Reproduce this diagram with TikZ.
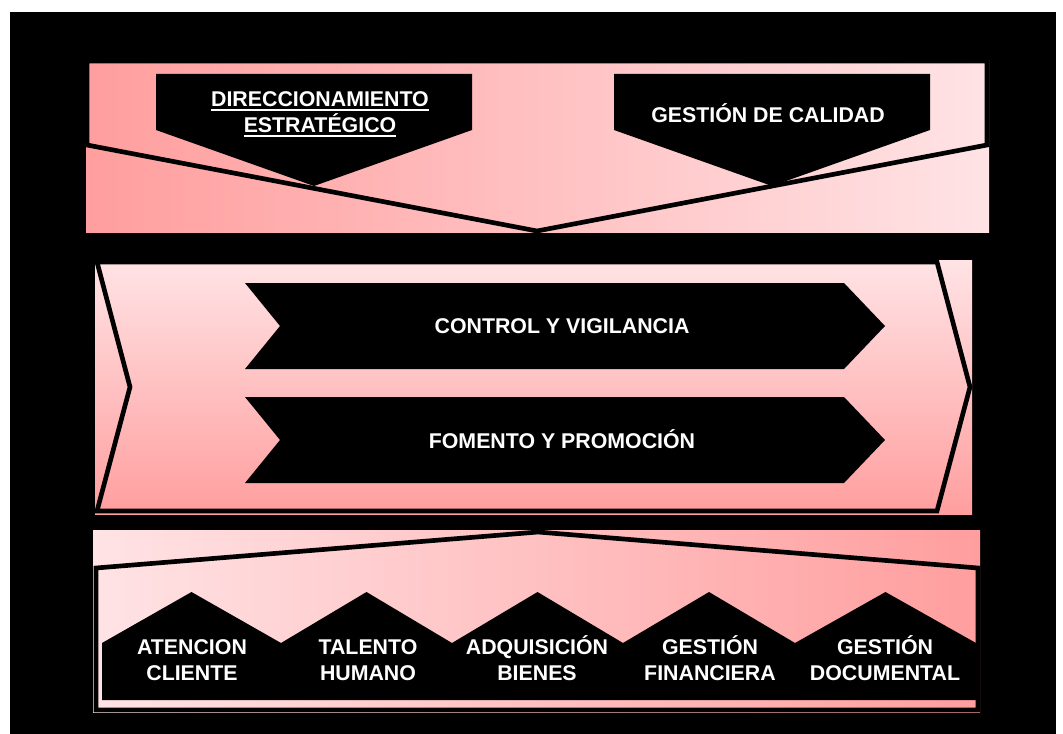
\documentclass[tikz,border=0pt]{standalone}
\usepackage{fontspec}
\setmainfont{Liberation Sans}
\usepackage{xcolor}
\usepackage{tikz}

\definecolor{pinkDark}{HTML}{FF9E9E}
\definecolor{pinkLight}{HTML}{FFE3E5}
\newcommand{\undl}[1]{\leavevmode\setbox0\hbox{#1}\rlap{\rule[-3pt]{\wd0}{1.4pt}}\box0}

\begin{document}
\begin{tikzpicture}[x=0.75pt,y=0.75pt,yscale=-1,xscale=1,
  lbl/.style={text=white,font=\fontsize{16}{19.5}\selectfont\bfseries,align=center,inner sep=0.75pt,anchor=base},
  outl/.style={line width=3.5pt,line join=miter}]
\useasboundingbox (0,0) rectangle (1063,734);

%Shape: Rectangle [background]
\fill[black] (10,12) rectangle (1056,734);

%Shape: Rectangle [top band]
\shade[left color=pinkDark,right color=pinkLight] (86,61) rectangle (989,233);
%Shape: Pentagon
\draw[outl] (87,61) -- (987,61) -- (987,145) -- (537,231) -- (87,145) -- cycle;
%Shape: Pentagon
\fill (156,74) -- (472,74) -- (472,130) -- (314,186) -- (156,130) -- cycle;
%Shape: Pentagon
\fill (614,74) -- (930,74) -- (930,130) -- (772,186) -- (614,130) -- cycle;

%Shape: Rectangle [middle band]
\shade[top color=pinkLight,bottom color=pinkDark] (95,261) rectangle (972,514);
%Shape: Chevron
\draw[outl] (97,262) -- (937,262) -- (970,387) -- (937,511) -- (97,511) -- (130,387) -- cycle;
%Shape: Chevron
\foreach \yc in {326,440}
  \fill (245,\yc-43) -- (844,\yc-43) -- (885,\yc) -- (844,\yc+43) -- (245,\yc+43) -- (280,\yc) -- cycle;

%Shape: Rectangle [bottom band]
\shade[left color=pinkLight,right color=pinkDark] (93,530) rectangle (980,712);
%Shape: Pentagon
\draw[outl] (96,568) -- (538,532) -- (978,568) -- (978,710) -- (96,710) -- cycle;
%Shape: Pentagon
\foreach \l/\r in {102/281,281/452,452/623,623/795,795/976}
  \fill (\l,700) -- (\l,643) -- ({(\l+\r)/2},592) -- (\r,643) -- (\r,700) -- cycle;

% Text Node
\draw (320,133) node [lbl] (dirEst) {\undl{DIRECCIONAMIENTO}\\\undl{ESTRATÉGICO}};
% Text Node
\draw (768,123) node [lbl] (gesCal) {GESTIÓN DE CALIDAD};
% Text Node
\draw (562,333) node [lbl] (ctrlVig) {CONTROL Y VIGILANCIA};
% Text Node
\draw (562,448) node [lbl] (fomProm) {FOMENTO Y PROMOCIÓN};
% Text Node
\draw (192,680) node [lbl] (atnCli) {ATENCION\\CLIENTE};
% Text Node
\draw (368,680) node [lbl] (talHum) {TALENTO\\HUMANO};
% Text Node
\draw (537,680) node [lbl] (adqBie) {ADQUISICIÓN\\BIENES};
% Text Node
\draw (710,680) node [lbl] (gesFin) {GESTIÓN\\FINANCIERA};
% Text Node
\draw (885,680) node [lbl] (gesDoc) {GESTIÓN\\DOCUMENTAL};

\end{tikzpicture}
\end{document}
